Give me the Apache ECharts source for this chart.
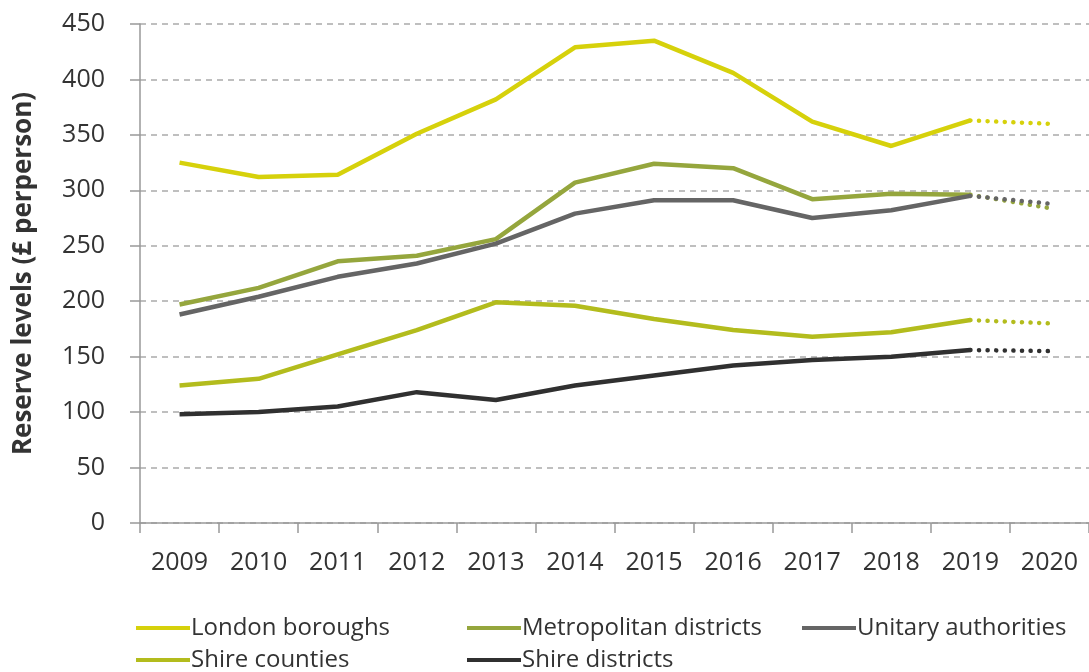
<!DOCTYPE html>
<html>
<head>
<meta charset="utf-8">
<script src="https://cdn.jsdelivr.net/npm/echarts@6/dist/echarts.min.js"></script>
<style>
    html, body { margin: 0; padding: 0; background: #fff; overflow: hidden; }
    #chart { width: 1089px; height: 672px; }
</style>
</head>
<body>
<div id="chart"></div>
<script>
    var years = ['2009', '2010', '2011', '2012', '2013', '2014', '2015', '2016', '2017', '2018', '2019', '2020'];
    var yTicks = [0, 50, 100, 150, 200, 250, 300, 350, 400, 450];

    // 2009-2019 actual, 2020 projected (drawn dotted)
    var londonBoroughs = [325, 312, 314, 351, 382, 429, 435, 406, 362, 340, 363, 360];
    var metropolitanDistricts = [197, 212, 236, 241, 256, 307, 324, 320, 292, 297, 296, 284];
    var unitaryAuthorities = [188, 204, 222, 234, 252, 279, 291, 291, 275, 282, 295, 288];
    var shireCounties = [124, 130, 152, 174, 199, 196, 184, 174, 168, 172, 183, 180];
    var shireDistricts = [98, 100, 105, 118, 111, 124, 133, 142, 147, 150, 156, 155];

    var seriesDefs = [
        {name: 'London boroughs', color: '#d6d10b', data: londonBoroughs},
        {name: 'Metropolitan districts', color: '#95a63d', data: metropolitanDistricts},
        {name: 'Unitary authorities', color: '#656565', data: unitaryAuthorities},
        {name: 'Shire counties', color: '#b3bc1d', data: shireCounties},
        {name: 'Shire districts', color: '#303030', data: shireDistricts}
    ];

    // legend slots: [left, vertical centre]
    var legendPos = [[136, 628], [467, 628], [802, 628], [136, 660], [467, 660]];

    var last = years.length - 1;
    var series = [];
    var legends = [];
    seriesDefs.forEach(function (d, k) {
        // solid part up to 2019
        series.push({
            name: d.name,
            type: 'line',
            symbol: 'none',
            silent: true,
            color: d.color,
            lineStyle: {width: 4.5, color: d.color},
            data: d.data.map(function (v, i) { return i < last ? v : null; })
        });
        // dotted projection 2019 -> 2020
        series.push({
            name: d.name + ' (proj)',
            type: 'line',
            symbol: 'none',
            silent: true,
            color: d.color,
            lineStyle: {width: 4.5, color: d.color, type: [0.1, 8.5], cap: 'round'},
            data: d.data.map(function (v, i) { return i >= last - 1 ? v : null; })
        });
        legends.push({
            left: legendPos[k][0],
            top: legendPos[k][1] - 16,
            padding: 0,
            icon: 'rect',
            itemWidth: 54,
            itemHeight: 4,
            selectedMode: false,
            data: [d.name],
            textStyle: {fontSize: 24, lineHeight: 32, color: '#333', fontFamily: 'Open Sans', padding: [0, 0, 0, -4]}
        });
    });

    var chart = echarts.init(document.getElementById('chart'));
    chart.setOption({
        animation: false,
        textStyle: {fontFamily: 'Open Sans'},
        legend: legends,
        grid: {left: 140, top: 24, width: 961, height: 499},
        xAxis: {
            type: 'category',
            data: years,
            boundaryGap: true,
            axisLine: {lineStyle: {color: '#999', width: 1.5}},
            axisTick: {show: true, length: 10, lineStyle: {color: '#999', width: 1.5}},
            axisLabel: {fontSize: 25, color: '#333', margin: 27, fontFamily: 'Open Sans'},
            splitLine: {show: false}
        },
        yAxis: {
            type: 'value',
            min: yTicks[0],
            max: yTicks[yTicks.length - 1],
            interval: yTicks[1] - yTicks[0],
            name: 'Reserve levels (£ perperson)',
            nameLocation: 'middle',
            nameGap: 103,
            nameTextStyle: {fontSize: 26, fontWeight: 'bold', color: '#333', fontFamily: 'Open Sans'},
            axisLine: {show: true, lineStyle: {color: '#999', width: 1.5}},
            axisTick: {show: true, length: 10, lineStyle: {color: '#999', width: 1.5}},
            axisLabel: {fontSize: 25, color: '#333', margin: 35, fontFamily: 'Open Sans'},
            splitLine: {show: true, lineStyle: {color: '#aaa', width: 1.5, type: [6, 5]}}
        },
        series: series
    });
</script>
</body>
</html>
